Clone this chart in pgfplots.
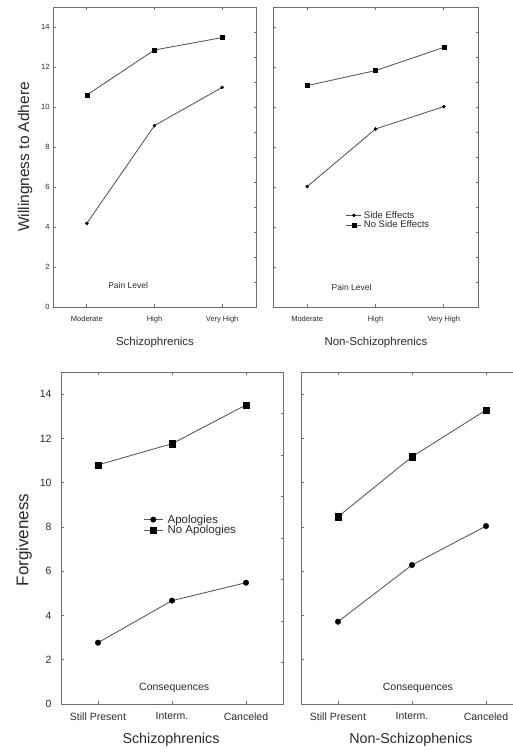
\documentclass[border=0pt]{standalone}
\usepackage{pgfplots}
\pgfplotsset{compat=1.18}
\usepackage{fontspec}
\setmainfont{Liberation Sans}
\definecolor{axc}{HTML}{6E6E6E}
\definecolor{lnc}{HTML}{555555}
\definecolor{txc}{HTML}{2A2A2A}
\pgfplotsset{
  panel/.style={scale only axis, xmin=-0.5, xmax=2.5, ymin=0, ymax=15,
    xtick={0,1,2}, ytick={0,2,...,14}, ytick pos=left, xtick pos=both,
    tick align=inside, major tick length=3pt,
    axis line style={axc, line width=0.9pt},
    tick style={axc, line width=0.7pt},
    every tick label/.append style={txc},
    /pgf/number format/assume math mode=true, clip=false},
  rtick/.style={scale only axis, xmin=-0.5, xmax=2.5, ymin=0, ymax=15,
    axis y line*=right, axis x line=none,
    ytick={1.25,2.5,3.75,5,6.25,7.5,8.75,10,11.25,12.5,13.75}, yticklabels={},
    tick align=inside, major tick length=2.5pt,
    tick style={axc, line width=0.7pt},
    axis line style={axc, line width=0.9pt}},
  sqT/.style={lnc, line width=0.85pt, mark=square*, mark size=2pt, mark options={draw=black, fill=black, solid, line width=0.3pt}},
  ciT/.style={lnc, line width=0.85pt, mark=*, mark size=1.6pt, mark options={draw=black, fill=black, solid, line width=0.3pt}},
  sqB/.style={lnc, line width=0.85pt, mark=square*, mark size=3.2pt, mark options={draw=black, fill=black, solid, line width=0.3pt}},
  ciB/.style={lnc, line width=0.85pt, mark=*, mark size=2.8pt, mark options={draw=black, fill=black, solid, line width=0.3pt}},
}
\begin{document}
\begin{tikzpicture}[x=1pt,y=1pt]
% ---------------- top left
\begin{axis}[panel, at={(53pt,447pt)}, anchor=south west, width=203pt, height=300pt,
  xticklabels={Moderate,High,Very High},
  ticklabel style={font=\fontsize{7.5}{9}\selectfont},
  xticklabel style={yshift=-6pt}]
\addplot[ciT] coordinates {(0,4.18) (1,9.07) (2,10.98)};
\addplot[sqT] coordinates {(0,10.6) (1,12.85) (2,13.47)};
\node[txc, font=\fontsize{8.5}{10}\selectfont] at (axis cs:0.61,1.07) {Pain Level};
\end{axis}
\begin{axis}[rtick, at={(53pt,447pt)}, anchor=south west, width=203pt, height=300pt]
\end{axis}
% ---------------- top right
\begin{axis}[panel, at={(273pt,447pt)}, anchor=south west, width=205pt, height=300pt,
  xticklabels={Moderate,High,Very High}, yticklabels={},
  ticklabel style={font=\fontsize{7.5}{9}\selectfont},
  xticklabel style={yshift=-6pt},
  legend cell align=left,
  legend style={at={(0.355,0.322)}, anchor=north west, draw=none, fill=none,
    font=\fontsize{9.5}{9.5}\selectfont, inner sep=0pt, row sep=0pt, column sep=1.5pt,
    nodes={inner sep=0.6pt, text=txc}},
  legend image code/.code={\draw[mark repeat=2, mark phase=2, #1] plot coordinates {(0pt,0pt) (7.5pt,0pt) (15pt,0pt)};}]
\addplot[ciT] coordinates {(0,6.02) (1,8.9) (2,10.02)};
\addlegendentry{Side Effects}
\addplot[sqT] coordinates {(0,11.07) (1,11.82) (2,12.98)};
\addlegendentry{No Side Effects}
\node[txc, font=\fontsize{8.5}{10}\selectfont] at (axis cs:0.65,1.0) {Pain Level};
\end{axis}
\begin{axis}[rtick, at={(273pt,447pt)}, anchor=south west, width=205pt, height=300pt]
\end{axis}
% ---------------- bottom left
\begin{axis}[panel, at={(61pt,50pt)}, anchor=south west, width=222pt, height=332pt,
  xticklabels={Still Present,Interm.,Canceled},
  ticklabel style={font=\fontsize{10.5}{12}\selectfont},
  xticklabel style={yshift=-5pt},
  yticklabel style={xshift=-6pt},
  legend cell align=left,
  legend style={at={(0.37,0.572)}, anchor=north west, draw=none, fill=none,
    font=\fontsize{11.5}{11.5}\selectfont, inner sep=0pt, row sep=0pt, column sep=4pt,
    nodes={inner sep=0.4pt, text=txc}},
  legend image code/.code={\draw[mark repeat=2, mark phase=2, #1] plot coordinates {(0pt,0pt) (9.5pt,0pt) (19pt,0pt)};}]
\addplot[ciB] coordinates {(0,2.77) (1,4.67) (2,5.48)};
\addlegendentry{Apologies}
\addplot[sqB] coordinates {(0,10.8) (1,11.76) (2,13.51)};
\addlegendentry{No Apologies}
\node[txc, font=\fontsize{10.5}{12}\selectfont] at (axis cs:1.03,0.72) {Consequences};
\end{axis}
\begin{axis}[rtick, at={(61pt,50pt)}, anchor=south west, width=222pt, height=332pt,
  ytick={1.875,3.75,5.625,7.5,9.375,11.25,13.125}]
\end{axis}
% ---------------- bottom right
\begin{axis}[panel, at={(301pt,50pt)}, anchor=south west, width=222pt, height=332pt,
  xticklabels={Still Present,Interm.,Canceled}, yticklabels={},
  ticklabel style={font=\fontsize{10.5}{12}\selectfont},
  xticklabel style={yshift=-5pt}]
\addplot[ciB] coordinates {(0,3.72) (1,6.28) (2,8.04)};
\addplot[sqB] coordinates {(0,8.46) (1,11.17) (2,13.28)};
\node[txc, font=\fontsize{10.5}{12}\selectfont] at (axis cs:1.08,0.72) {Consequences};
\end{axis}
% ---------------- labels
\node[txc, rotate=90, font=\fontsize{15.5}{18}\selectfont] at (25pt,597pt) {Willingness to Adhere};
\node[txc, font=\fontsize{11.5}{14}\selectfont] at (155pt,411pt) {Schizophrenics};
\node[txc, font=\fontsize{11.5}{14}\selectfont] at (376pt,411pt) {Non-Schizophrenics};
\node[txc, rotate=90, font=\fontsize{17}{20}\selectfont] at (24pt,214pt) {Forgiveness};
\node[txc, font=\fontsize{14.3}{17}\selectfont] at (171pt,14pt) {Schizophrenics};
\node[txc, font=\fontsize{14.3}{17}\selectfont] at (411pt,14pt) {Non-Schizophenics};
\pgfresetboundingbox
\path[use as bounding box] (0,0) rectangle (513pt,754pt);
\end{tikzpicture}
\end{document}
